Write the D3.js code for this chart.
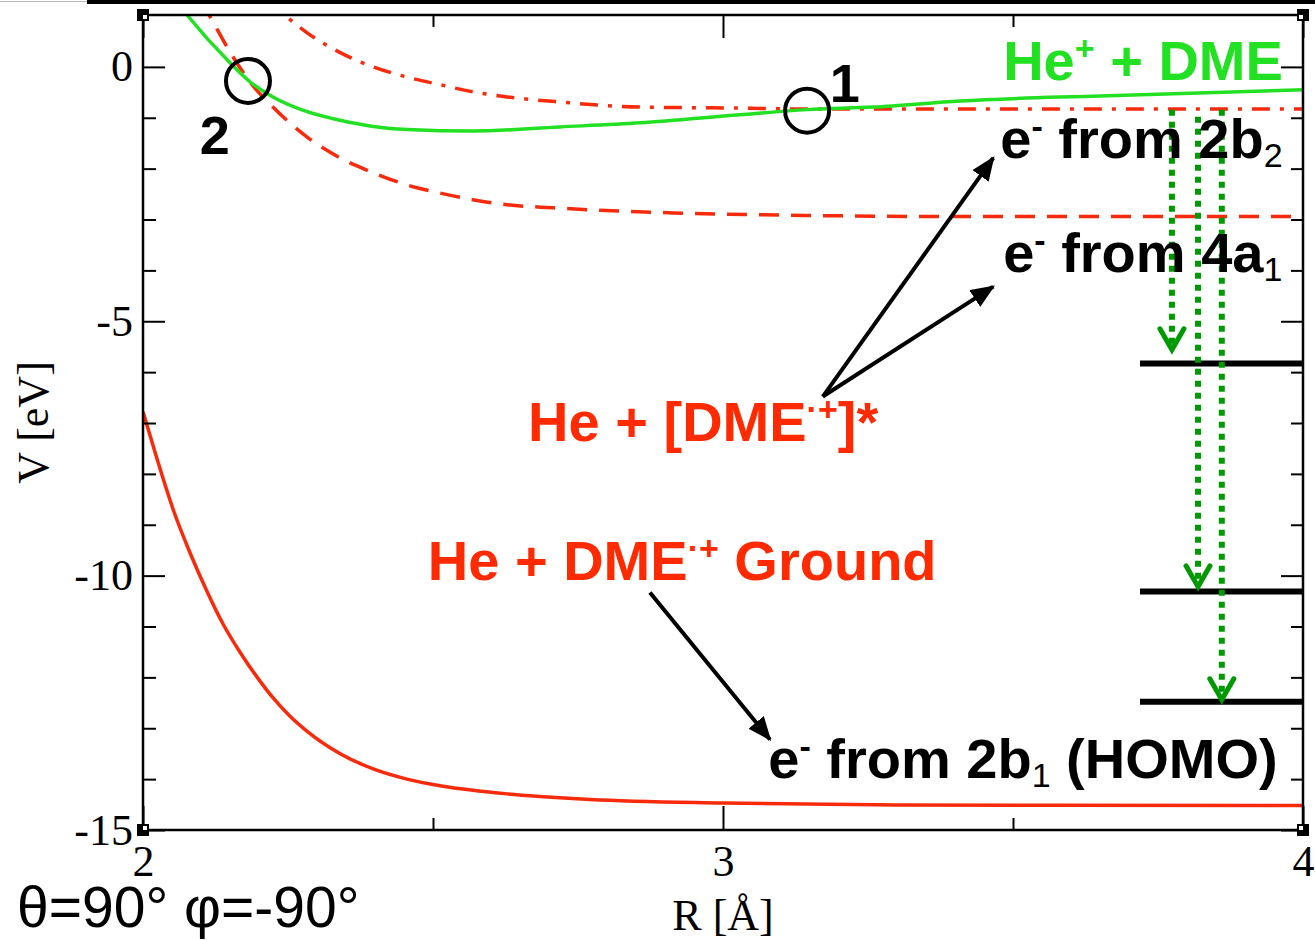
<!DOCTYPE html>
<html>
<head>
<meta charset="utf-8">
<script src="https://cdn.jsdelivr.net/npm/d3@7"></script>
<style>
  body { margin: 0; background: #fff; }
  svg  { display: block; }
  text { white-space: pre; }
</style>
</head>
<body>
<svg id="chart" width="1315" height="940"></svg>
<script>
// ---- data (R in Å, V in eV) ----
const heDmeR   = [2.05, 2.076, 2.15, 2.184, 2.224, 2.283, 2.34, 2.397, 2.455, 2.569, 2.719, 2.857, 3.029, 3.145, 3.259, 3.409, 3.65, 4.0];
const heDmeV   = [1.40, 1.02, 0.08, -0.29, -0.59, -0.88, -1.05, -1.17, -1.23, -1.26, -1.18, -1.10, -0.94, -0.84, -0.79, -0.67, -0.57, -0.45];

const st4a1R   = [2.10, 2.116, 2.145, 2.184, 2.224, 2.283, 2.34, 2.397, 2.455, 2.512, 2.569, 2.628, 2.707, 2.914, 3.145, 3.374, 4.0];
const st4a1V   = [1.30, 0.98, 0.39, -0.29, -0.79, -1.38, -1.79, -2.08, -2.32, -2.48, -2.61, -2.71, -2.77, -2.87, -2.92, -2.94, -2.94];

const st2b2R   = [2.215, 2.248, 2.283, 2.34, 2.397, 2.455, 2.512, 2.569, 2.628, 2.719, 2.857, 3.029, 3.145, 4.0];
const st2b2V   = [1.30, 0.98, 0.67, 0.28, 0.0, -0.20, -0.35, -0.49, -0.59, -0.69, -0.79, -0.81, -0.83, -0.83];

const groundR  = [2.0, 2.024, 2.052, 2.081, 2.110, 2.138, 2.167, 2.197, 2.224, 2.253, 2.283, 2.34, 2.397, 2.455, 2.512, 2.569, 2.628, 2.684, 2.771, 3.0, 3.3, 4.0];
const groundV  = [-6.78, -7.70, -8.70, -9.55, -10.30, -10.95, -11.50, -12.00, -12.40, -12.76, -13.06, -13.50, -13.80, -14.00, -14.13, -14.22, -14.29, -14.34, -14.40, -14.47, -14.51, -14.52];

// final ionic levels and the transitions that drop onto them
const levelV        = [-5.83, -10.31, -12.48];
const levelR        = [3.719, 4.0];
const dropR         = [3.774, 3.819, 3.860];
const dropFromV     = [-0.84, -0.98, -0.84];
const dropToV       = [-5.56, -10.22, -12.44];

// crossing markers
const crossR        = [3.145, 2.181];
const crossV        = [-0.86, -0.275];
const crossNames    = ["1", "2"];
const crossLabelR   = [3.184, 2.098];
const crossLabelV   = [-0.69, -1.71];

// ticks
const xMajorTicks   = [2, 3, 4];
const xMinorTicks   = [2.5, 3.5];
const yMajorTicks   = [0, -5, -10, -15];
const yMinorTicks   = [-1, -2, -3, -4, -6, -7, -8, -9, -11, -12, -13, -14];

// annotation arrows [R0, V0, R1, V1]
const pointerArrows = [
  [3.172, -6.48, 3.466, -1.79],
  [3.172, -6.48, 3.466, -4.32],
  [2.874, -10.33, 3.081, -13.22]
];

// annotation labels
const labelR     = [3.483, 3.478, 3.483, 2.664, 2.491, 3.078];
const labelV     = [-0.26, -1.79, -4.03, -7.35, -10.08, -13.97];
const labelColor = ["#22e022", "#000", "#000", "#ff2a00", "#ff2a00", "#000"];
const labelParts = [
  [["He"], ["+", "sup"], [" + DME"]],
  [["e"], ["-", "sup"], [" from 2b"], ["2", "sub"]],
  [["e"], ["-", "sup"], [" from 4a"], ["1", "sub"]],
  [["He + [DME"], ["\u00b7+", "sup"], ["]*"]],
  [["He + DME"], ["\u00b7+", "sup"], [" Ground"]],
  [["e"], ["-", "sup"], [" from 2b"], ["1", "sub"], [" (HOMO)"]]
];

// ---- layout ----
const W = 1315, H = 940;
const plot = { left: 143, right: 1303, top: 15, bottom: 830 };
const SANS  = "'Liberation Sans', Arial, Helvetica, sans-serif";
const SERIF = "'Liberation Serif', 'Times New Roman', serif";
const RED   = "#f82a0c";
const GREEN = "#22e022";
const DKGRN = "#009900";

const svg = d3.select("#chart");
const x = d3.scaleLinear().domain([2, 4]).range([plot.left, plot.right]);
const y = d3.scaleLinear().domain([-15, 1.02]).range([plot.bottom, plot.top]);

svg.append("rect").attr("width", W).attr("height", H).attr("fill", "#fff");

// strip along the top edge of the scan
svg.append("rect").attr("x", 87).attr("y", 0).attr("width", W - 87).attr("height", 4).attr("fill", "#000");
svg.append("line").attr("x1", 0).attr("x2", 87).attr("y1", 1.5).attr("y2", 1.5)
   .attr("stroke", "#bbb").attr("stroke-width", 1);

svg.append("defs").append("clipPath").attr("id", "plotClip")
   .append("rect")
   .attr("x", plot.left).attr("y", plot.top)
   .attr("width", plot.right - plot.left).attr("height", plot.bottom - plot.top);

// ---- curves ----
const line = d3.line().x(d => x(d[0])).y(d => y(d[1])).curve(d3.curveMonotoneX);
const curves = [
  { R: groundR, V: groundV, color: RED,   dash: null,           width: 3.5 },
  { R: st4a1R,  V: st4a1V,  color: RED,   dash: "20,12",        width: 3.5 },
  { R: st2b2R,  V: st2b2V,  color: RED,   dash: "18,10,4,10",   width: 3.5 },
  { R: heDmeR,  V: heDmeV,  color: GREEN, dash: null,           width: 3.5 }
];

svg.append("g").attr("clip-path", "url(#plotClip)")
   .selectAll("path")
   .data(curves)
   .enter().append("path")
     .attr("d", c => line(c.R.map((r, i) => [r, c.V[i]])))
     .attr("fill", "none")
     .attr("stroke", c => c.color)
     .attr("stroke-width", c => c.width)
     .attr("stroke-dasharray", c => c.dash);

// ---- axes (xmgrace style, ticks inside on all four sides) ----
function axisGroup(axis, tx, ty) {
  const g = svg.append("g").attr("transform", `translate(${tx},${ty})`).call(axis);
  g.select(".domain").remove();
  g.selectAll("line").attr("stroke", "#000").attr("stroke-width", 2);
  g.selectAll("text").attr("font-family", SERIF).attr("font-size", 44).attr("fill", "#000");
  return g;
}
const fmt = d => String(d);

axisGroup(d3.axisLeft(y).tickValues(yMajorTicks).tickSize(-22).tickPadding(10).tickFormat(fmt), plot.left, 0);
axisGroup(d3.axisLeft(y).tickValues(yMinorTicks).tickSize(-13).tickFormat(""), plot.left, 0);
axisGroup(d3.axisRight(y).tickValues(yMajorTicks).tickSize(-22).tickFormat(""), plot.right, 0);
axisGroup(d3.axisRight(y).tickValues(yMinorTicks).tickSize(-12).tickFormat(""), plot.right, 0);
axisGroup(d3.axisBottom(x).tickValues(xMajorTicks).tickSize(-24).tickPadding(15).tickFormat(fmt), 0, plot.bottom);
axisGroup(d3.axisBottom(x).tickValues(xMinorTicks).tickSize(-12).tickFormat(""), 0, plot.bottom);
axisGroup(d3.axisTop(x).tickValues(xMajorTicks).tickSize(-23).tickFormat(""), 0, plot.top);
axisGroup(d3.axisTop(x).tickValues(xMinorTicks).tickSize(-12).tickFormat(""), 0, plot.top);

svg.append("rect")
   .attr("x", plot.left).attr("y", plot.top)
   .attr("width", plot.right - plot.left).attr("height", plot.bottom - plot.top)
   .attr("fill", "none").attr("stroke", "#000").attr("stroke-width", 2.5);

// little corner handles
[[plot.left, plot.top, 1, 1], [plot.right, plot.top, -1, 1],
 [plot.left, plot.bottom, 1, -1], [plot.right, plot.bottom, -1, -1]].forEach(([cx, cy, sx, sy]) => {
  svg.append("rect").attr("x", cx - 6).attr("y", cy - 6).attr("width", 12).attr("height", 12).attr("fill", "#000");
  svg.append("rect").attr("x", cx + (sx > 0 ? 0 : -4)).attr("y", cy + (sy > 0 ? 0 : -4))
     .attr("width", 4).attr("height", 4).attr("fill", "#fff");
});

svg.append("text")
   .attr("transform", `translate(48,${(plot.top + plot.bottom) / 2}) rotate(-90)`)
   .attr("text-anchor", "middle")
   .attr("font-family", SERIF).attr("font-size", 44)
   .text("V [eV]");

svg.append("text")
   .attr("x", (plot.left + plot.right) / 2).attr("y", 930)
   .attr("text-anchor", "middle")
   .attr("font-family", SERIF).attr("font-size", 44)
   .text("R [\u00c5]");

svg.append("text")
   .attr("x", 17).attr("y", 927)
   .attr("font-family", SANS).attr("font-size", 57)
   .text("\u03b8=90\u00b0 \u03c6=-90\u00b0");

// ---- final levels + green dotted transitions ----
svg.append("g").selectAll("line")
   .data(levelV)
   .enter().append("line")
     .attr("x1", x(levelR[0])).attr("x2", x(levelR[1]))
     .attr("y1", d => y(d)).attr("y2", d => y(d))
     .attr("stroke", "#000").attr("stroke-width", 6);

const drops = svg.append("g");
dropR.forEach((r, i) => {
  const px = x(r), y0 = y(dropFromV[i]), y1 = y(dropToV[i]);
  drops.append("line")
       .attr("x1", px).attr("x2", px).attr("y1", y0).attr("y2", y1 - 4)
       .attr("stroke", DKGRN).attr("stroke-width", 6).attr("stroke-dasharray", "6,6");
  drops.append("path")
       .attr("d", `M${px - 12},${y1 - 21}L${px},${y1}L${px + 12},${y1 - 21}`)
       .attr("fill", "none").attr("stroke", DKGRN).attr("stroke-width", 5)
       .attr("stroke-linecap", "round").attr("stroke-linejoin", "miter");
});

// ---- crossing circles ----
svg.append("g").selectAll("circle")
   .data(crossR)
   .enter().append("circle")
     .attr("cx", d => x(d)).attr("cy", (d, i) => y(crossV[i]))
     .attr("r", 22)
     .attr("fill", "none").attr("stroke", "#000").attr("stroke-width", 4);

svg.append("g").selectAll("text")
   .data(crossNames)
   .enter().append("text")
     .attr("x", (d, i) => x(crossLabelR[i])).attr("y", (d, i) => y(crossLabelV[i]))
     .attr("font-family", SANS).attr("font-weight", "bold").attr("font-size", 54)
     .text(d => d);

// ---- pointer arrows ----
svg.select("defs").append("marker")
   .attr("id", "head").attr("markerUnits", "userSpaceOnUse")
   .attr("viewBox", "0 0 24 20").attr("refX", 22).attr("refY", 10)
   .attr("markerWidth", 24).attr("markerHeight", 20).attr("orient", "auto")
   .append("path").attr("d", "M0,0L24,10L0,20Z").attr("fill", "#000");

svg.append("g").selectAll("line")
   .data(pointerArrows)
   .enter().append("line")
     .attr("x1", d => x(d[0])).attr("y1", d => y(d[1]))
     .attr("x2", d => x(d[2])).attr("y2", d => y(d[3]))
     .attr("stroke", "#000").attr("stroke-width", 4)
     .attr("marker-end", "url(#head)");

// ---- labels with super/subscripts ----
labelParts.forEach((parts, i) => {
  const t = svg.append("text")
     .attr("x", x(labelR[i])).attr("y", y(labelV[i]))
     .attr("font-family", SANS).attr("font-weight", "bold").attr("font-size", 56)
     .attr("fill", labelColor[i]);
  let shift = 0;
  parts.forEach(([txt, kind]) => {
    const target = kind === "sup" ? -20 : kind === "sub" ? 9 : 0;
    const s = t.append("tspan").attr("dy", target - shift).text(txt);
    shift = target;
    if (kind) s.attr("font-size", 34).attr("font-weight", kind === "sub" ? "normal" : "bold");
  });
});
</script>
</body>
</html>
